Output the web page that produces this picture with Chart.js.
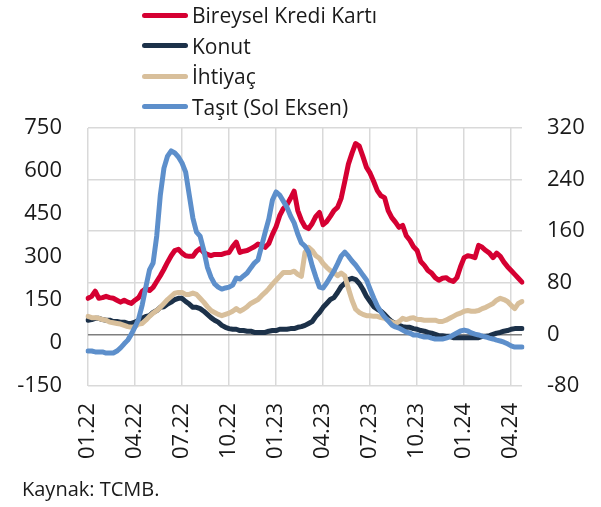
<!DOCTYPE html>
<html lang="tr">
<head>
<meta charset="utf-8">
<title>Tüketici Kredileri Büyümesi</title>
<script src="https://cdn.jsdelivr.net/npm/chart.js"></script>
<style>
    body { margin: 0; background: #fff; font-family: "Open Sans", sans-serif; color: #1a1a1a; }
    #wrap { position: relative; width: 601px; height: 507px; }
    #wrap canvas { position: absolute; left: 0; top: 0; }
    #legend { position: absolute; left: 142px; top: 0; font-size: 21px; }
    #legend .item { display: flex; align-items: center; height: 30.5px; }
    #legend .line { width: 46px; height: 5px; border-radius: 3px; margin-right: 4px; }
    #source { position: absolute; left: 22px; top: 475px; font-size: 20px; }
</style>
</head>
<body>
<div id="wrap">
    <canvas id="loanChart" width="601" height="507"></canvas>
    <div id="legend"></div>
    <div id="source">Kaynak: TCMB.</div>
</div>

<script>
    // quarter labels on the x axis, one every 13 weeks
    const quarterLabels = ['01.22', '04.22', '07.22', '10.22', '01.23', '04.23', '07.23', '10.23', '01.24', '04.24'];
    const weekCount = 121;

    // right axis series
    const krediKarti = [
        56, 59, 67, 56, 57, 59, 57, 56, 53, 50,
        53, 50, 48, 53, 57, 67, 71, 68, 73, 82,
        91, 101, 112, 122, 130, 132, 126, 122, 121, 121,
        129, 133, 127, 124, 122, 124, 124, 124, 126, 127,
        136, 143, 127, 129, 130, 133, 136, 140, 138, 135,
        141, 155, 167, 184, 195, 201, 211, 222, 192, 177,
        167, 164, 172, 183, 189, 170, 175, 183, 192, 197,
        211, 237, 264, 281, 296, 292, 276, 259, 250, 237,
        223, 215, 212, 192, 181, 174, 166, 169, 153, 146,
        136, 130, 113, 107, 99, 95, 88, 84, 87, 88,
        84, 82, 88, 105, 119, 122, 121, 119, 138, 135,
        130, 126, 119, 126, 121, 112, 105, 99, 93, 87,
        81
    ];
    const konut = [
        22, 23, 25, 25, 23, 22, 22, 20, 20, 19,
        19, 17, 17, 19, 22, 25, 28, 29, 34, 37,
        42, 43, 47, 50, 54, 56, 56, 51, 47, 42,
        42, 40, 36, 31, 26, 22, 19, 14, 11, 9,
        8, 8, 6, 6, 5, 5, 3, 3, 3, 3,
        5, 6, 6, 8, 8, 8, 9, 9, 11, 12,
        14, 17, 20, 28, 34, 42, 48, 54, 57, 65,
        74, 79, 85, 87, 85, 79, 70, 59, 51, 43,
        39, 36, 31, 25, 20, 17, 14, 12, 11, 11,
        9, 8, 6, 5, 3, 2, 0, -2, -2, -3,
        -3, -5, -5, -5, -5, -5, -5, -5, -5, -3,
        -3, -2, 0, 2, 3, 5, 6, 8, 9, 9,
        9
    ];
    const ihtiyac = [
        28, 26, 26, 25, 23, 22, 19, 18, 17, 16,
        14, 12, 11, 12, 16, 17, 22, 28, 33, 37,
        42, 48, 54, 59, 64, 65, 65, 62, 62, 64,
        62, 56, 50, 43, 37, 34, 31, 29, 31, 33,
        36, 40, 36, 39, 43, 48, 51, 54, 60, 65,
        71, 78, 84, 90, 96, 96, 96, 98, 93, 90,
        127, 135, 130, 122, 118, 110, 104, 99, 96, 91,
        95, 91, 71, 53, 39, 34, 31, 29, 29, 28,
        28, 26, 25, 22, 19, 17, 20, 25, 23, 25,
        26, 23, 23, 22, 22, 22, 22, 20, 20, 22,
        25, 28, 31, 33, 36, 37, 36, 36, 37, 40,
        42, 45, 48, 53, 56, 54, 51, 45, 40, 48,
        51
    ];
    // left axis series
    const tasit = [
        -28, -28, -31, -31, -31, -35, -35, -35, -28, -17,
        -3, 10, 31, 56, 84, 133, 195, 255, 279, 373,
        516, 610, 652, 670, 663, 649, 628, 596, 516, 436,
        387, 373, 324, 265, 230, 206, 195, 188, 192, 195,
        202, 227, 223, 234, 244, 262, 279, 290, 338, 387,
        433, 499, 527, 516, 495, 474, 443, 419, 380, 349,
        338, 317, 269, 230, 195, 192, 209, 230, 251, 276,
        303, 317, 303, 286, 272, 255, 237, 220, 188, 157,
        129, 108, 91, 77, 63, 56, 52, 45, 38, 35,
        28, 28, 24, 21, 21, 17, 14, 14, 14, 17,
        21, 28, 35, 42, 45, 42, 35, 31, 28, 24,
        21, 17, 14, 10, 7, 3, -3, -10, -14, -14,
        -14
    ];

    const weeks = [];
    const start = new Date(2022, 0, 7);
    for (let i = 0; i < weekCount; i++) {
        const d = new Date(start.getTime() + i * 7 * 86400000);
        weeks.push(d.toLocaleDateString('tr-TR'));
    }

    const series = [
        { label: 'Bireysel Kredi Kartı', data: krediKarti, color: '#d50032', axis: 'y1', order: 4 },
        { label: 'Konut', data: konut, color: '#1c3149', axis: 'y1', order: 3 },
        { label: 'İhtiyaç', data: ihtiyac, color: '#d8bf9b', axis: 'y1', order: 2 },
        { label: 'Taşıt (Sol Eksen)', data: tasit, color: '#5d8fcb', axis: 'y', order: 1 }
    ];

    // html legend, one item per row
    const legendEl = document.getElementById('legend');
    series.forEach(s => {
        const row = document.createElement('div');
        row.className = 'item';
        const line = document.createElement('span');
        line.className = 'line';
        line.style.background = s.color;
        const txt = document.createElement('span');
        txt.textContent = s.label;
        row.appendChild(line);
        row.appendChild(txt);
        legendEl.appendChild(row);
    });

    Chart.defaults.font.family = '"Open Sans", sans-serif';
    Chart.defaults.font.size = 22;
    Chart.defaults.color = '#1a1a1a';

    const ctx = document.getElementById('loanChart').getContext('2d');
    new Chart(ctx, {
        type: 'line',
        data: {
            labels: weeks,
            datasets: series.map(s => ({
                label: s.label,
                data: s.data,
                borderColor: s.color,
                backgroundColor: s.color,
                yAxisID: s.axis,
                order: s.order
            }))
        },
        options: {
            responsive: false,
            animation: false,
            layout: { padding: { top: 128, left: 0, right: 0, bottom: 0 } },
            elements: {
                point: { radius: 0 },
                line: { tension: 0, borderWidth: 5, borderCapStyle: 'round', borderJoinStyle: 'round' }
            },
            plugins: {
                legend: { display: false },
                tooltip: { enabled: false }
            },
            scales: {
                x: {
                    grid: {
                        drawTicks: false,
                        lineWidth: 1.5,
                        color: c => (c.index % 13 === 0 ? '#d9d9d9' : 'rgba(0,0,0,0)')
                    },
                    border: { display: false },
                    ticks: {
                        autoSkip: false,
                        minRotation: 90,
                        maxRotation: 90,
                        padding: 17,
                        callback: (v, i) => (i % 13 === 0 ? quarterLabels[i / 13] : '')
                    },
                    afterFit: s => { s.height = 121; }
                },
                y: {
                    position: 'left',
                    min: -150,
                    max: 750,
                    grid: { display: false, drawTicks: false },
                    border: { display: false },
                    ticks: { stepSize: 150, padding: 26 },
                    afterFit: s => { s.width = 88; }
                },
                y1: {
                    position: 'right',
                    min: -80,
                    max: 320,
                    grid: {
                        drawTicks: false,
                        lineWidth: 1.5,
                        color: c => (c.tick.value === 0 ? '#7f7f7f' : '#d9d9d9')
                    },
                    border: { display: false },
                    ticks: { stepSize: 80, padding: 25 },
                    afterFit: s => { s.width = 79; }
                }
            }
        }
    });
</script>
</body>
</html>
